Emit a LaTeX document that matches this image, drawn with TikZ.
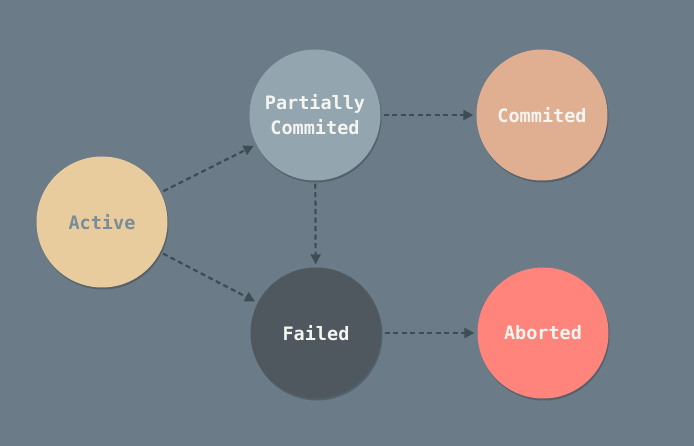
\documentclass[tikz,border=0pt]{standalone}
\usepackage{fontspec}
\setmonofont{DejaVu Sans Mono}
\usetikzlibrary{arrows.meta,shadows}
\definecolor{bg}{HTML}{6B7B87}
\definecolor{activec}{HTML}{E8CC9E}
\definecolor{partc}{HTML}{93A6AF}
\definecolor{commc}{HTML}{E0AE91}
\definecolor{failc}{HTML}{4E585E}
\definecolor{abortc}{HTML}{FF847C}
\definecolor{arrowc}{HTML}{3E4C56}
\definecolor{activetxt}{HTML}{7A8C99}
\definecolor{lighttxt}{HTML}{F4F4F0}
\tikzset{
  state/.style={circle, minimum size=131pt, inner sep=0pt, align=center,
    font=\ttfamily\bfseries\fontsize{18.5}{25}\selectfont,
    drop shadow={shadow xshift=1pt, shadow yshift=-2pt, opacity=0.2, fill=black}},
  conn/.style={draw=arrowc, line width=2.2pt, dash pattern=on 5pt off 3.5pt,
    -{Triangle[length=10pt,width=10pt]}, shorten <=3pt, shorten >=3pt}
}
\begin{document}
\begin{tikzpicture}[x=1pt,y=1pt]
\fill[bg] (0,0) rectangle (694,-446);
\useasboundingbox (0,0) rectangle (694,-446);
\node[state, fill=activec, text=activetxt] (active) at (102,-222) {Active};
\node[state, fill=partc, text=lighttxt] (part) at (315,-115) {Partially\\Commited};
\node[state, fill=commc, text=lighttxt] (comm) at (542,-115) {Commited};
\node[state, fill=failc, text=lighttxt] (fail) at (316,-333) {Failed};
\node[state, fill=abortc, text=lighttxt] (abort) at (543,-333) {Aborted};
\draw[conn] (active) -- (part);
\draw[conn] (active) -- (fail);
\draw[conn] (part) -- (comm);
\draw[conn] (part) -- (fail);
\draw[conn] (fail) -- (abort);
\end{tikzpicture}
\end{document}
